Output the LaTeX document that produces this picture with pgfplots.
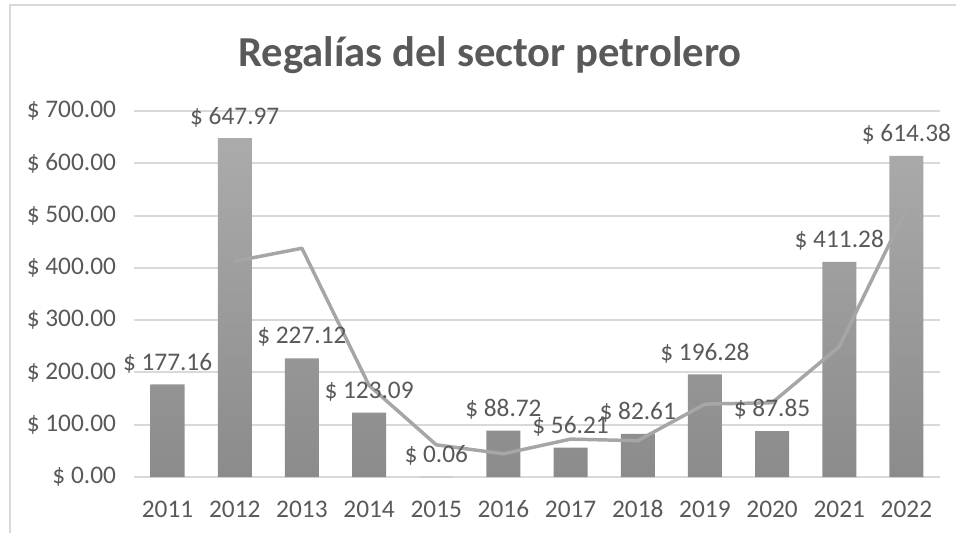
\documentclass[border=0pt]{standalone}
\usepackage{pgfplots}
\pgfplotsset{compat=1.18}
\usepackage{fontspec}
\setmainfont{Carlito}
\definecolor{txtc}{HTML}{595959}
\definecolor{gridc}{HTML}{D9D9D9}
\definecolor{bartop}{HTML}{ABABAB}
\definecolor{barbot}{HTML}{8B8B8B}
\definecolor{trendc}{HTML}{A6A6A6}
\pgfplotstableread{
x y
0 177.16
1 647.97
2 227.12
3 123.09
4 0.06
5 88.72
6 56.21
7 82.61
8 196.28
9 87.85
10 411.28
11 614.38
}\regalias
\begin{document}
\begin{tikzpicture}[x=0.75pt,y=0.75pt]
% bounding box: pixel (0,0)-(956,533), axis origin at pixel (134,477)
\useasboundingbox (-134,-56) rectangle (822,477);
\draw[gridc, line width=1.5] (-124,-56) -- (-124,472) -- (822,472);
\begin{axis}[
  at={(0,0)}, anchor=south west,
  scale only axis,
  width=604.5pt, height=274.5pt,
  xmin=-0.5, xmax=11.5,
  ymin=0, ymax=700,
  ytick={0,100,...,700},
  xtick={0,...,11},
  xticklabels={2011,2012,2013,2014,2015,2016,2017,2018,2019,2020,2021,2022},
  xmajorgrids=false,
  ymajorgrids=true,
  major grid style={draw=gridc, line width=1.5pt},
  major tick length=0pt,
  tick label style={font=\fontsize{19}{21}\selectfont, text=txtc},
  /pgf/number format/assume math mode=true,
  yticklabel={\$ \pgfmathprintnumber[fixed,fixed zerofill,precision=2]{\tick}},
  yticklabel style={xshift=-10pt},
  xticklabel style={anchor=base, yshift=-30pt},
  axis x line*=bottom, axis y line*=left,
  x axis line style={draw=none}, y axis line style={draw=none},
  clip=false,
]
\addplot[ybar, bar width=25.5pt, bar shift=0pt, draw=none, top color=bartop, bottom color=barbot]
  table[x=x,y=y] {\regalias};
\addplot[trendc, line width=2.6pt, line join=round, mark=none]
  coordinates {(1,412.565) (2,437.545) (3,175.105) (4,61.575) (5,44.39) (6,72.465) (7,69.41) (8,139.445) (9,142.065) (10,249.565) (11,512.83)};
\addplot[draw=none, mark=none,
  nodes near coords={\$ \pgfmathprintnumber[fixed,fixed zerofill,precision=2]{\pgfplotspointmeta}},
  every node near coord/.append style={font=\fontsize{19}{21}\selectfont, text=txtc, anchor=center, yshift=16pt}]
  table[x=x,y=y] {\regalias};
\end{axis}
\node[font=\bfseries\fontsize{32}{36}\selectfont, text=txtc] at (356,422) {Regalías del sector petrolero};
\end{tikzpicture}
\end{document}
